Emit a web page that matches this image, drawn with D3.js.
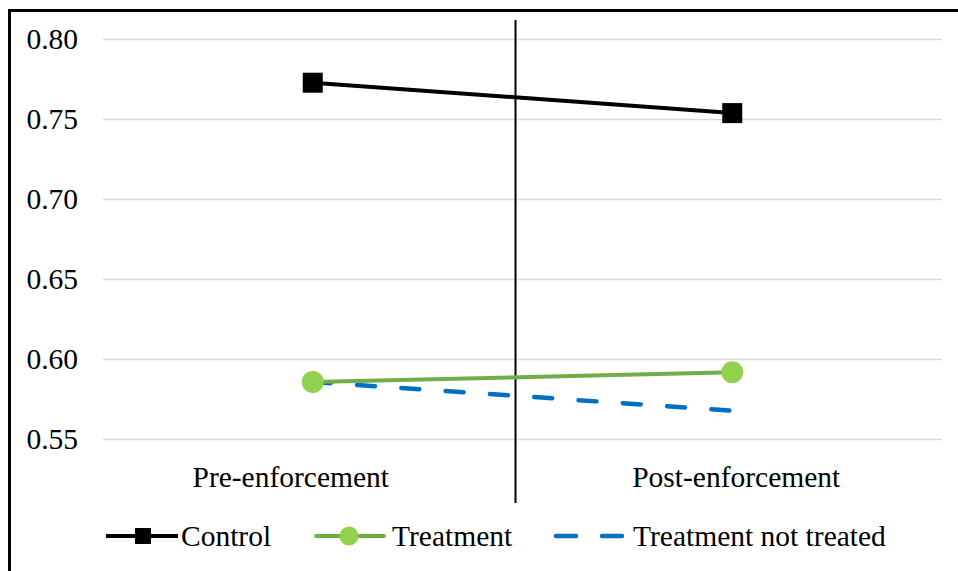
<!DOCTYPE html>
<html><head><meta charset="utf-8">
<script src="https://cdn.jsdelivr.net/npm/d3@7"></script>
<style>body{margin:0;background:#fff}svg{display:block}text{font-family:"Liberation Serif","Times New Roman",serif;fill:#000}</style>
</head><body><svg id="c" width="958" height="571"></svg>
<script>
const categories = ["Pre-enforcement", "Post-enforcement"];
const control = [0.773, 0.754];
const treatment = [0.586, 0.592];
const notTreated = [0.586, 0.568];
const yTicks = [0.55, 0.60, 0.65, 0.70, 0.75, 0.80];
const seriesNames = ["Control", "Treatment", "Treatment not treated"];

const FS = 29.5;
const FF = "'Liberation Serif','Times New Roman',serif";
const svg = d3.select("#c");
svg.append("rect").attr("x",0).attr("y",0).attr("width",958).attr("height",571).attr("fill","#fff");
svg.append("path").attr("d","M9.5,571 L9.5,10.5 L958,10.5").attr("fill","none").attr("stroke","#000").attr("stroke-width",3);

const x = d3.scalePoint().domain(categories).range([103, 942]).padding(0.5);
const y = d3.scaleLinear().domain([0.55, 0.80]).range([439.5, 39.5]);
const fmt = d3.format(".2f");
const labelShift = [-22, 4];

svg.append("g").selectAll("line").data(yTicks).join("line")
  .attr("x1",103).attr("x2",942).attr("y1",d=>y(d)).attr("y2",d=>y(d))
  .attr("stroke","#d9d9d9").attr("stroke-width",1.3);

svg.append("g").selectAll("text").data(yTicks).join("text")
  .attr("x",78).attr("y",d=>y(d)).attr("dy","0.33em").attr("text-anchor","end")
  .style("font-size",FS+"px").style("font-family",FF).text(d=>fmt(d));

svg.append("g").selectAll("text").data(categories).join("text")
  .attr("x",(d,i)=>x(d)+labelShift[i]).attr("y",487).attr("text-anchor","middle").style("font-size",FS+"px").style("font-family",FF).text(d=>d);

svg.append("line").attr("x1",515.5).attr("x2",515.5).attr("y1",20).attr("y2",503).attr("stroke","#000").attr("stroke-width",2);

const line = d3.line().x((d,i)=>x(categories[i])).y(d=>y(d));

svg.append("path").datum(notTreated).attr("d",line).attr("fill","none")
  .attr("stroke","#0070c0").attr("stroke-width",4.5).attr("stroke-dasharray","18,26.4").attr("stroke-linecap","round");
svg.append("path").datum(treatment).attr("d",line).attr("fill","none").attr("stroke","#70ad47").attr("stroke-width",4);
svg.append("g").selectAll("circle").data(treatment).join("circle")
  .attr("cx",(d,i)=>x(categories[i])).attr("cy",d=>y(d)).attr("r",11).attr("fill","#92d050");
svg.append("path").datum(control).attr("d",line).attr("fill","none").attr("stroke","#000").attr("stroke-width",4);
svg.append("g").selectAll("rect").data(control).join("rect")
  .attr("x",(d,i)=>x(categories[i])-10).attr("y",d=>y(d)-10).attr("width",20).attr("height",20).attr("fill","#000");

const ly = 536;
const lg = svg.append("g");
lg.append("line").attr("x1",106).attr("x2",178).attr("y1",ly).attr("y2",ly).attr("stroke","#000").attr("stroke-width",4);
lg.append("rect").attr("x",135).attr("y",ly-8).attr("width",16).attr("height",16).attr("fill","#000");
lg.append("text").attr("x",181).attr("y",ly+10).style("font-size",FS+"px").style("font-family",FF).text(seriesNames[0]);
lg.append("line").attr("x1",316).attr("x2",384).attr("y1",ly).attr("y2",ly).attr("stroke","#70ad47").attr("stroke-width",4).attr("stroke-linecap","round");
lg.append("circle").attr("cx",349).attr("cy",ly).attr("r",9.5).attr("fill","#92d050");
lg.append("text").attr("x",392).attr("y",ly+10).style("font-size",FS+"px").style("font-family",FF).text(seriesNames[1]);
lg.append("line").attr("x1",556).attr("x2",624).attr("y1",ly).attr("y2",ly).attr("stroke","#0070c0").attr("stroke-width",4.5).attr("stroke-dasharray","20,26").attr("stroke-linecap","round");
lg.append("text").attr("x",633).attr("y",ly+10).style("font-size",FS+"px").style("font-family",FF).text(seriesNames[2]);
</script></body></html>
